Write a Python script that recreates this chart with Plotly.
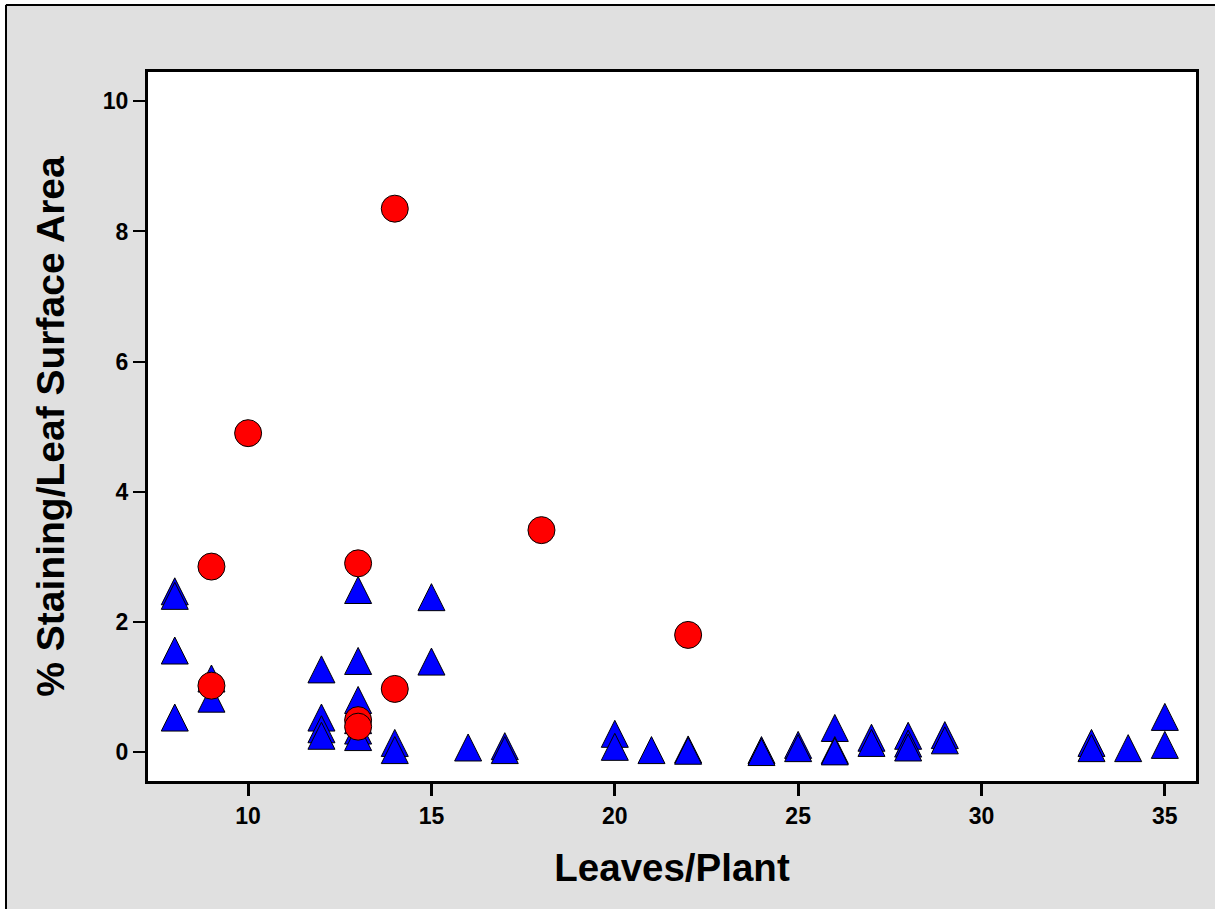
import plotly.graph_objects as go

# ---- data ----
tri_x = [8, 8, 8, 8,
         9, 9,
         12, 12, 12, 12,
         13, 13, 13, 13, 13, 13,
         14, 14,
         15, 15,
         16,
         17, 17,
         20, 20,
         21,
         22, 22,
         24, 24,
         25, 25,
         26, 26, 26,
         27, 27,
         28, 28, 28,
         29, 29,
         33, 33,
         34,
         35, 35]
tri_y = [2.47, 2.40, 1.56, 0.53,
         1.13, 0.82,
         1.27, 0.53, 0.35, 0.25,
         2.49, 1.40, 0.80, 0.49, 0.33, 0.23,
         0.14, 0.03,
         2.38, 1.39,
         0.07,
         0.09, 0.03,
         0.28, 0.08,
         0.03,
         0.04, 0.02,
         0.03, 0.00,
         0.11, 0.06,
         0.37, 0.03, 0.01,
         0.22, 0.14,
         0.25, 0.13, 0.07,
         0.26, 0.18,
         0.14, 0.06,
         0.06,
         0.54, 0.11]

circ_x = [9, 9, 10, 13, 13, 13, 14, 14, 18, 22]
circ_y = [2.85, 1.02, 4.90, 2.90, 0.49, 0.39, 8.35, 0.97, 3.41, 1.80]

x_ticks = [10, 15, 20, 25, 30, 35]
y_ticks = [0, 2, 4, 6, 8, 10]

x_title = "Leaves/Plant"
y_title = "% Staining/Leaf Surface Area"

# ---- layout constants ----
W, H = 1215, 909
ML, MR, MT, MB = 148, 19, 72, 128
PW, PH = W - ML - MR, H - MT - MB

def px_to_paper_x(px):
    return (px - ML) / PW

def px_to_paper_y(py):
    return (H - MB - py) / PH

MSIZE = 27

fig = go.Figure()
# equal width/height up-pointing triangle, centred on the data point
fig.add_trace(go.Scatter(
    x=tri_x, y=tri_y, mode="markers",
    marker=dict(symbol="arrow-down", size=MSIZE, color="#0000ff",
                line=dict(color="black", width=1),
                angle=180, standoff=MSIZE / 2),
    showlegend=False, hoverinfo="x+y"))
fig.add_trace(go.Scatter(
    x=circ_x, y=circ_y, mode="markers",
    marker=dict(symbol="circle", size=MSIZE, color="#ff0000",
                line=dict(color="black", width=1)),
    showlegend=False, hoverinfo="x+y"))

font_family = "Liberation Sans, Arial, sans-serif"

fig.update_xaxes(
    range=[7.27, 35.85], tickvals=x_ticks, ticks="outside", ticklen=12,
    tickwidth=3, tickcolor="black", showline=True, linewidth=3,
    linecolor="black", mirror=True, showgrid=False, zeroline=False,
    tickfont=dict(family=font_family, size=23, color="black", weight="bold"),
    title=dict(text=x_title, standoff=27,
               font=dict(family=font_family, size=38.5, color="black", weight="bold")))
fig.update_yaxes(
    range=[-0.445, 10.45], tickvals=y_ticks, ticks="outside", ticklen=12,
    tickwidth=2, tickcolor="black", showline=True, linewidth=3,
    linecolor="black", mirror=True, showgrid=False, zeroline=False,
    tickfont=dict(family=font_family, size=23, color="black", weight="bold"),
    title=dict(text=y_title, standoff=27,
               font=dict(family=font_family, size=39, color="black", weight="bold")))

shapes = [
    # white strips outside the outer frame
    dict(type="rect", xref="paper", yref="paper",
         x0=px_to_paper_x(0), x1=px_to_paper_x(5),
         y0=px_to_paper_y(H), y1=px_to_paper_y(0),
         fillcolor="white", line=dict(width=0), layer="below"),
    dict(type="rect", xref="paper", yref="paper",
         x0=px_to_paper_x(0), x1=px_to_paper_x(W),
         y0=px_to_paper_y(4), y1=px_to_paper_y(0),
         fillcolor="white", line=dict(width=0), layer="below"),
    # outer frame lines
    dict(type="line", xref="paper", yref="paper",
         x0=px_to_paper_x(6), x1=px_to_paper_x(6),
         y0=px_to_paper_y(5), y1=px_to_paper_y(H + 5),
         line=dict(color="black", width=2)),
    dict(type="line", xref="paper", yref="paper",
         x0=px_to_paper_x(6), x1=px_to_paper_x(W + 5),
         y0=px_to_paper_y(5), y1=px_to_paper_y(5),
         line=dict(color="black", width=2)),
]

fig.update_layout(
    width=W, height=H,
    margin=dict(l=ML, r=MR, t=MT, b=MB, pad=0),
    paper_bgcolor="#e0e0e0", plot_bgcolor="white",
    shapes=shapes, showlegend=False,
)

fig.write_html("out.html")
